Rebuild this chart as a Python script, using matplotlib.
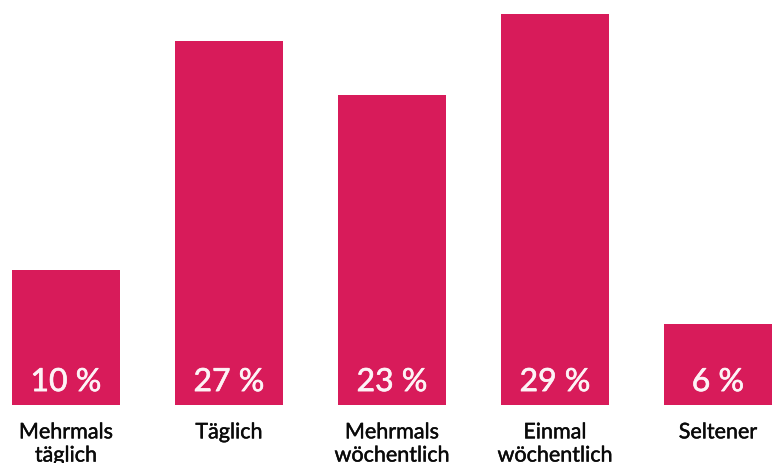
import matplotlib.pyplot as plt
import matplotlib.patheffects as pe

categories = ["Mehrmals\ntäglich", "Täglich", "Mehrmals\nwöchentlich", "Einmal\nwöchentlich", "Seltener"]
values = [10, 27, 23, 29, 6]
value_labels = ["10 %", "27 %", "23 %", "29 %", "6 %"]

plt.rcParams['font.family'] = ['Lato', 'DejaVu Sans']

fig = plt.figure(figsize=(7.81, 4.63), dpi=100)
ax = fig.add_axes([0, 58 / 463, 1, 405 / 463])

x = range(len(values))
ax.bar(x, values, width=108 / 163, color='#D81B5A')
ax.set_xlim(-66 / 163, 715 / 163)
ax.set_ylim(0, 30)
ax.axis('off')

# Lato Regular is a bit thin compared to the original, thicken it slightly
thick_w = [pe.withStroke(linewidth=0.45, foreground='#fdf3f6')]
thick_k = [pe.withStroke(linewidth=0.3, foreground='#0a0a0a')]

for i, (v, lab, cat) in enumerate(zip(values, value_labels, categories)):
    ax.annotate(lab, (i, 0), xytext=(0, 16.5), textcoords='offset points',
                ha='center', va='center', color='#fdf3f6', fontsize=23,
                path_effects=thick_w, annotation_clip=False)
    ax.annotate(cat, (i, 0), xytext=(0, -12.5), textcoords='offset points',
                ha='center', va='top', color='#0a0a0a', fontsize=15.5,
                linespacing=1.2, path_effects=thick_k, annotation_clip=False)

fig.savefig('out.png', dpi=100)
